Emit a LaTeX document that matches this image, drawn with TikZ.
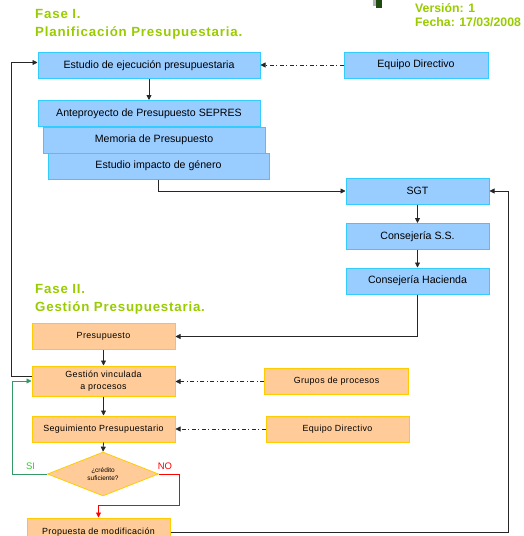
\documentclass[tikz,border=0pt]{standalone}
\usepackage{fontspec}
\setmainfont{Liberation Sans}
\newfontfamily\titlefont[LetterSpace=6]{Liberation Sans}
\newfontfamily\orfont[LetterSpace=4]{Liberation Sans}
\usetikzlibrary{arrows.meta,shapes.geometric,calc}
\definecolor{bfill}{HTML}{99CCFF}
\definecolor{bline}{HTML}{33CCFF}
\definecolor{ofill}{HTML}{FFCC99}
\definecolor{oline}{HTML}{FFCC00}
\definecolor{tgreen}{HTML}{99CC00}
\definecolor{sigreen}{HTML}{33CC33}
\definecolor{siline}{HTML}{339966}
\definecolor{icong}{HTML}{1F4A10}
\tikzset{
  bbox/.style={draw=bline, line width=1pt, fill=bfill, inner sep=0pt, minimum width=#1, minimum height=26pt, font=\fontsize{10.6}{12}\selectfont, align=center},
  obox/.style={draw=oline, line width=1pt, fill=ofill, inner sep=0pt, minimum width=#1, minimum height=26pt, font=\orfont\fontsize{8.9}{12}\selectfont, align=center},
  arr/.style={draw=black!85, line width=0.8pt, -{Triangle[length=5pt,width=5pt]}},
  dd/.style={arr, dash pattern=on 4pt off 2.5pt on 1pt off 2.5pt},
  ttl/.style={text=tgreen, font=\titlefont\bfseries\fontsize{13.3}{18}\selectfont, align=left, anchor=north west, inner sep=0pt},
}
\begin{document}
\begin{tikzpicture}[x=1pt,y=-1pt]
\useasboundingbox (0,0) rectangle (523,536);
\clip (0,0) rectangle (523,536);
\fill[white] (0,0) rectangle (523,536);
% icon fragment
\fill[gray!60] (373,0) rectangle (377,6);
\fill[icong] (376,0) rectangle (382,8);
% titles
\node[ttl] (t1) at (35,9.5) {Fase I.\\Planificación Presupuestaria.};
\node[ttl] (t2) at (35,284.5) {Fase II.\\Gestión Presupuestaria.};
\node[text=tgreen, font=\bfseries\fontsize{12.3}{13.5}\selectfont, align=left, anchor=north west, inner sep=0pt] (ver) at (415,3.5) {Versión: 1\\Fecha: 17/03/2008};
% phase I boxes
\node[bbox=222pt] (est) at (149,65.5) {Estudio de ejecución presupuestaria};
\node[bbox=144pt] (eqd1) at (416,65) {Equipo Directivo};
\node[bbox=222pt] (ante) at (149,113.5) {Anteproyecto de Presupuesto SEPRES};
\node[bbox=222pt] (mem) at (154,140) {Memoria de Presupuesto};
\node[bbox=221pt] (imp) at (158.5,166) {Estudio impacto de género};
\node[bbox=143pt] (sgt) at (417.5,191) {SGT};
\node[bbox=143pt] (css) at (417.5,236.5) {Consejería S.S.};
\node[bbox=143pt] (hac) at (417.5,281) {Consejería Hacienda};
% phase II boxes
\node[obox=143pt] (pres) at (103.5,336.5) {Presupuesto};
\node[obox=143pt, minimum height=30pt] (gest) at (103.5,381) {Gestión vinculada\\a procesos};
\node[obox=144pt] (grp) at (336.5,381.5) {Grupos de procesos};
\node[obox=143pt] (seg) at (103.5,429) {Seguimiento Presupuestario};
\node[obox=143pt] (eqd2) at (337.5,429) {Equipo Directivo};
\node[diamond, draw=oline, line width=0.8pt, fill=ofill, inner sep=0pt, minimum width=111pt, minimum height=34pt, font=\fontsize{6.5}{8}\selectfont, align=center] (dia) at (103,474) {¿crédito\\suficiente?};
\node[obox=143pt, minimum height=28pt] (prop) at (98.5,532) {Propuesta de modificación};
% connectors phase I
\draw[dd] (eqd1.west) -- (est.east |- eqd1.west);
\draw[arr] (est.south) -- (est.south |- ante.north);
\draw[arr] (imp.south) |- (sgt.west);
\draw[arr] (sgt.south) -- (css.north);
\draw[arr] (css.south) -- (hac.north);
\draw[arr] (hac.south) |- (pres.east);
% connectors phase II
\draw[arr] (pres.south) -- (gest.north);
\draw[arr] (gest.south) -- (seg.north);
\draw[arr] (seg.south) -- (dia.north);
\draw[dd] (grp.west) -- (gest.east |- grp.west);
\draw[dd] (eqd2.west) -- (seg.east);
\draw[arr] ([yshift=5pt]gest.west) -- ++(-20,0) |- ([yshift=3pt]est.west);
\draw[arr, draw=siline] (dia.west) -- ++(-35,0) |- (gest.west);
\node[text=sigreen, font=\fontsize{9.5}{10}\selectfont, inner sep=0pt] (si) at (30.5,466) {SI};
\draw[arr, draw=red] (dia.east) -- ++(20,0) -- ++(0,31) -| (prop.north);
\node[text=red, font=\fontsize{9.5}{10}\selectfont, inner sep=0pt] (no) at (165,466) {NO};
\draw[arr] (prop.east) -| ([xshift=19pt]sgt.east) -- (sgt.east);
\end{tikzpicture}
\end{document}
